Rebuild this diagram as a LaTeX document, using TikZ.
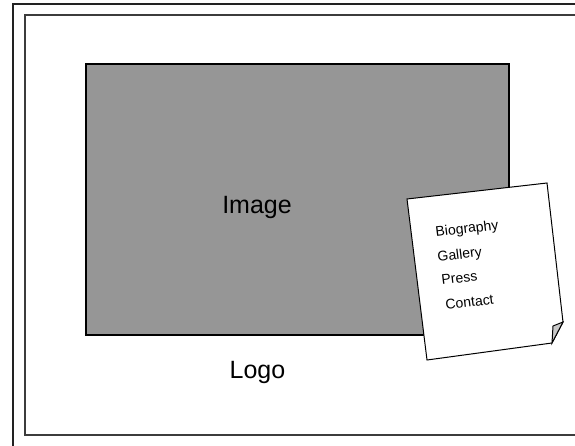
\documentclass[tikz,border=0pt]{standalone}
\usepackage{fontspec}
\setmainfont{Liberation Sans}
\usetikzlibrary{positioning}
\definecolor{cframe}{HTML}{222222}
\definecolor{cinner}{HTML}{3C3C3C}
\definecolor{cphoto}{HTML}{969696}
\definecolor{cfold}{HTML}{C8C8C8}
\tikzset{
  every picture/.style={line join=miter},
  frame/.style={draw=cframe, line width=2pt},
  inner/.style={draw=cinner, line width=1.3pt},
  photo/.style={draw=black, fill=cphoto, line width=2.4pt, minimum width=423pt, minimum height=271pt, inner sep=0pt},
  big/.style={font=\fontsize{25}{30}\selectfont, inner sep=0pt},
  note/.style={draw=black, fill=white, line width=1pt},
  menu/.style={font=\fontsize{14}{16}\selectfont, inner sep=0pt, anchor=base west, rotate=7},
}
\begin{document}
\begin{tikzpicture}[x=1pt, y=-1pt]
  \useasboundingbox (0,0) rectangle (575,446);
  \clip (0,0) rectangle (575,446);
  % ---- page frames ----
  \draw[frame] (13,4) rectangle (620,446.8);
  \draw[inner] (25,15) rectangle (620,435);
  % ---- image area and logo ----
  \node[photo] (photo) at (297.5,199.5) {};
  \node[big, anchor=base] (imagelabel) at (257,214) {Image};
  \node[big, anchor=base] (logo) at (257.5,378) {Logo};
  % ---- note with the menu ----
  \draw[note] (407,199) -- (547,183) -- (563,322) -- (552,343) -- (427,360) -- cycle;
  \draw[note, fill=cfold] (563,322) -- (553,326) -- (552,343) -- cycle;
  \node[menu] (biography) at (436,237) {Biography};
  \node[menu] (gallery) at (438,262) {Gallery};
  \node[menu] (press) at (442,285) {Press};
  \node[menu] (contact) at (446,310) {Contact};
\end{tikzpicture}
\end{document}
